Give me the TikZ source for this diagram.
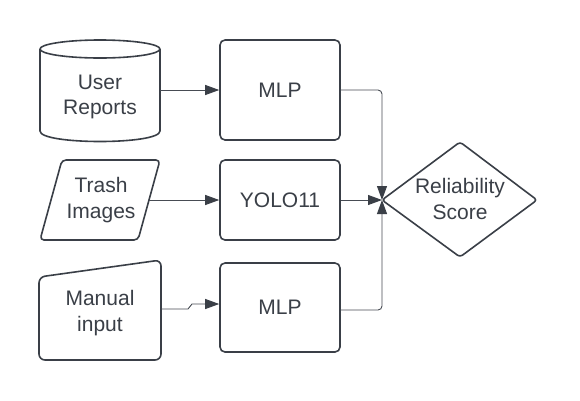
\documentclass[tikz,border=0pt]{standalone}
\usepackage{fontspec}
\setmainfont{Liberation Sans}
\usetikzlibrary{arrows.meta}
\definecolor{ink}{HTML}{3A3F47}
\definecolor{wire}{HTML}{474C54}
\tikzset{
  shapeline/.style={draw=ink, line width=1.6pt, line join=round},
  txt/.style={text=ink, font=\fontsize{21}{25.5}\selectfont, align=center, inner sep=0pt},
  box/.style={shapeline, rounded corners=5pt, minimum width=120pt, text=ink,
              font=\fontsize{21}{25.5}\selectfont, inner sep=0pt},
  wireline/.style={draw=wire, line width=0.9pt},
  arr/.style={wireline, -{Triangle[length=14pt,width=10pt,color=ink,fill=ink]}},
}
\begin{document}
\begin{tikzpicture}[x=1pt,y=-1pt]
\useasboundingbox (0,0) rectangle (580,400);
\fill[white] (0,0) rectangle (580,400);

% --- cylinder: User Reports
\draw[shapeline, fill=white] (40,49) -- (40,131) .. controls (40,145) and (160,145) .. (160,131) -- (160,49);
\draw[shapeline] (100,49) ellipse [x radius=60pt, y radius=9pt];
\node[txt] (user) at (100,97) {User\\Reports};
\coordinate (userE) at (160,90);

% --- parallelogram: Trash Images
\draw[shapeline, rounded corners=4pt] (62,160) -- (160,160) -- (138,240) -- (40,240) -- cycle;
\node[txt] (trash) at (101,200) {Trash\\Images};
\coordinate (trashE) at (149,200);

% --- manual input
\draw[shapeline, rounded corners=6pt] (39,277) -- (161,260) -- (161,360) -- (39,360) -- cycle;
\node[txt] (manual) at (100,313) {Manual\\input};
\coordinate (manualE) at (161,309);
\coordinate (hopA) at (188,309);
\coordinate (hopB) at (192,304);

% --- processing boxes
\node[box, minimum height=100pt] (mlpA) at (280,90) {MLP};
\node[box, minimum height=80pt] (yolo) at (280,200) {YOLO11};
\node[box, minimum height=89pt] (mlpB) at (280,307.5) {MLP};

% --- decision diamond
\draw[shapeline, rounded corners=3pt] (382,200) -- (460,142) -- (537,200) -- (460,257) -- cycle;
\node[txt] (score) at (460,199) {Reliability\\Score};
\coordinate (scoreW) at (382,200);
\coordinate (mlpAE) at (340,90);
\coordinate (mlpBE) at (340,310);
\coordinate (topC) at (382,90);
\coordinate (botC) at (382,310);

% --- connectors
\draw[arr] (userE) -- (userE -| mlpA.west);
\draw[arr] (trashE) -- (trashE -| yolo.west);
\draw[arr] (manualE) -- (hopA) -- (hopB) -- (hopB -| mlpB.west);
\draw[arr, rounded corners=4pt] (mlpAE) -- (topC) -- (scoreW);
\draw[arr] (yolo.east) -- (scoreW);
\draw[arr, rounded corners=4pt] (mlpBE) -- (botC) -- (scoreW);
\end{tikzpicture}
\end{document}
